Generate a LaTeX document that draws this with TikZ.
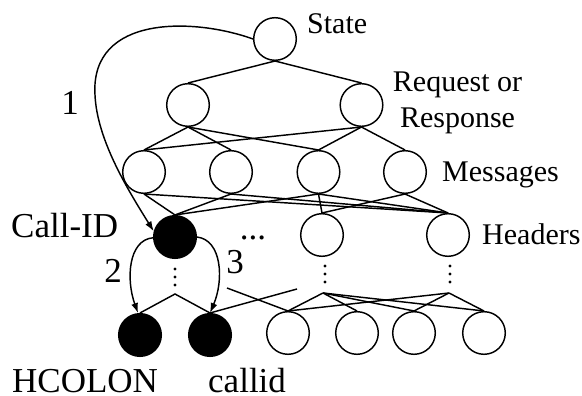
\documentclass[tikz,border=0pt]{standalone}
\usepackage{fontspec}
\setmainfont{Liberation Serif}
\usetikzlibrary{arrows.meta}
\begin{document}
\begin{tikzpicture}[x=1pt,y=-1pt,
  vtx/.style={circle,draw,line width=1.45pt,minimum size=42.6pt,inner sep=0pt},
  solidvtx/.style={vtx,fill=black},
  edge/.style={line width=1.45pt},
  arr/.style={line width=1.45pt,-{Latex[length=10pt,width=7pt]}},
  lblA/.style={inner sep=0pt,font=\fontsize{30}{36}\selectfont},
  lblB/.style={inner sep=0pt,font=\fontsize{35}{42}\selectfont},
  dotmark/.style={circle,fill=black,inner sep=0pt,minimum size=3.4pt},
]
% canvas
\path[fill=white,use as bounding box] (0,0) rectangle (582,396);

% tree levels
\node[vtx] (st) at (275,39) {};
\node[vtx] (rq1) at (188,105) {};
\node[vtx] (rq2) at (361.5,105) {};
\node[vtx] (m1) at (144,172) {};
\node[vtx] (m2) at (231,172) {};
\node[vtx] (m3) at (318.5,172) {};
\node[vtx] (m4) at (405,172) {};
\node[solidvtx] (cid) at (175,237) {};
\node[vtx] (h2) at (322,235) {};
\node[vtx] (h3) at (448,235) {};
\node[solidvtx] (hc) at (140,335) {};
\node[solidvtx] (cl) at (210,335) {};
\node[vtx] (b1) at (288,333) {};
\node[vtx] (b2) at (357,333) {};
\node[vtx] (b3) at (414,333) {};
\node[vtx] (b4) at (484,333) {};

% elided paths below each header
\foreach \y [count=\i] in {269,277,285}{
  \node[dotmark] (ca\i) at (175,\y) {};
  \node[dotmark] (hb\i) at (325,\y-3) {};
  \node[dotmark] (hd\i) at (450,\y-3) {};
}
\coordinate (cA) at (175,294);
\coordinate (hB) at (323,293);
\coordinate (hD) at (449,293);
\coordinate (s1) at (227,288);
\coordinate (s2) at (297,289);

% edges
\draw[edge] (st.south) -- (rq1.north);
\draw[edge] (st.south) -- (rq2.north);
\foreach \t in {m1,m2,m3} \draw[edge] (rq1.south) -- (\t.north);
\foreach \t in {m1,m3,m4} \draw[edge] (rq2.south) -- (\t.north);
\foreach \t in {cid,h3} \draw[edge] (m1.south) -- (\t.north);
\foreach \t in {cid,h3} \draw[edge] (m2.south) -- (\t.north);
\foreach \t in {cid,h2,h3} \draw[edge] (m3.south) -- (\t.north);
\foreach \t in {h2,h3} \draw[edge] (m4.south) -- (\t.north);
\draw[edge] (hc.north) -- (cA) -- (cl.north);
\foreach \t in {b1,b2,b3,b4} \draw[edge] (hB) -- (\t.north);
\foreach \t in {b1,b3,b4} \draw[edge] (hD) -- (\t.north);
\draw[edge] (s1) -- (b1.north);
\draw[edge] (s2) -- (cl.north);

% numbered traversal arrows
\draw[arr] (st.west) .. controls (195,18) and (90,14) .. (95,95)
           .. controls (97,140) and (128,190) .. (cid.165);
\draw[arr] (cid.182) .. controls (128,240) and (126,280) .. (hc.95);
\draw[arr] (cid.east) .. controls (222,240) and (224,280) .. (cl.north);

% labels
\node[lblA,anchor=base west] (tState) at (307,34) {State};
\node[lblA,anchor=base] (tReq) at (457.5,92) {Request or};
\node[lblA,anchor=base] (tResp) at (457.5,128) {Response};
\node[lblA,anchor=base west] (tMsg) at (442,182) {Messages};
\node[lblA,anchor=base west] (tHdr) at (482,244) {Headers};
\node[lblB,anchor=base west] (tCid) at (11,237) {Call-ID};
\node[lblB,anchor=base west] (tHc) at (12,392) {HCOLON};
\node[lblB,anchor=base west] (tCl) at (208,392) {callid};
\node[lblB,anchor=base] (n1) at (70,115) {1};
\node[lblB,anchor=base] (n2) at (113,282) {2};
\node[lblB,anchor=base] (n3) at (235,273) {3};
\node[lblB,anchor=base] (tDots) at (253,239) {...};
\end{tikzpicture}
\end{document}
